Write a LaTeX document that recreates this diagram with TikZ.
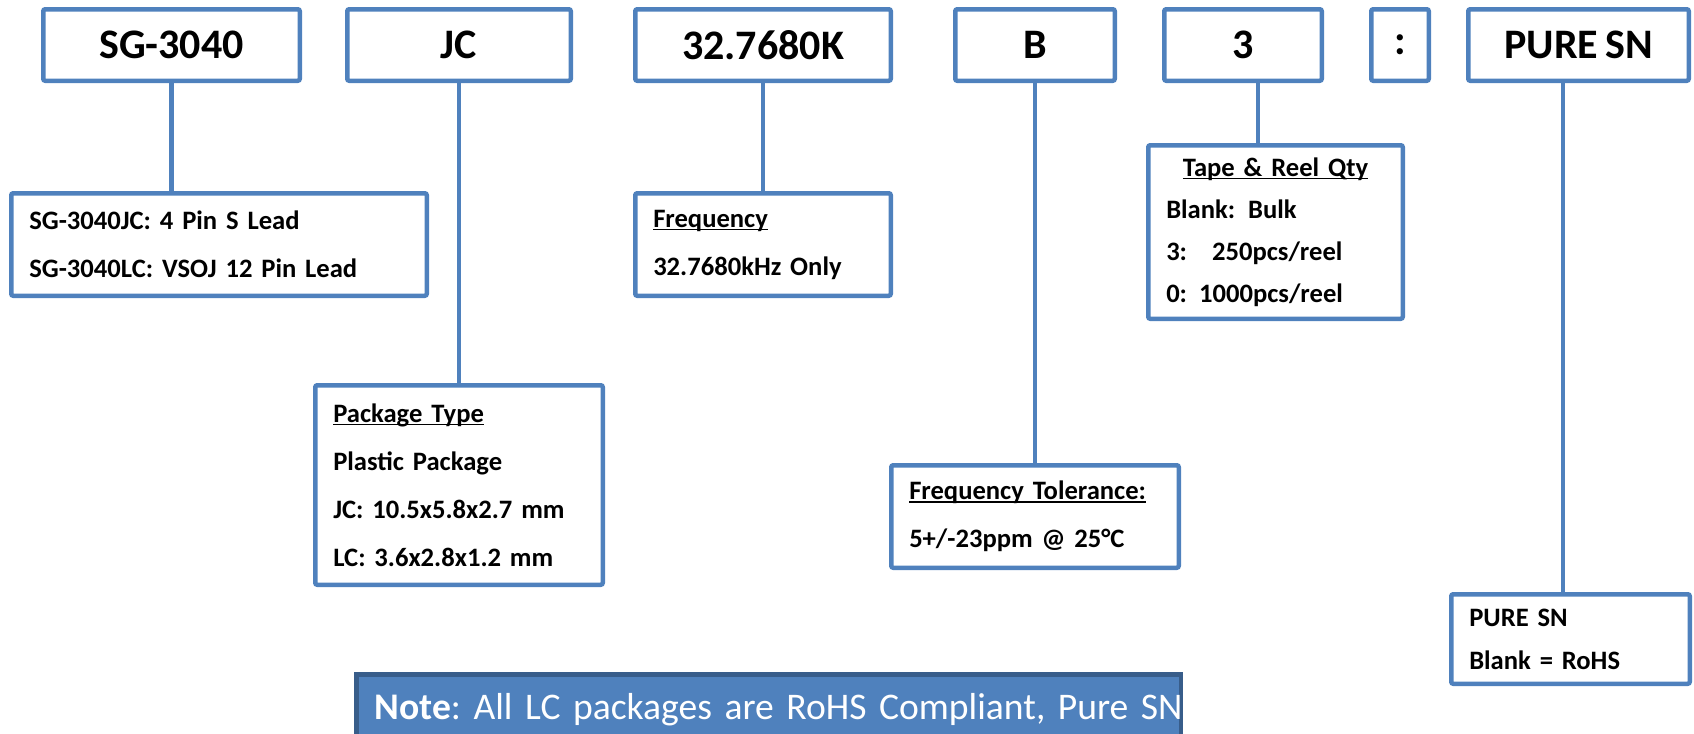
\documentclass[tikz,border=0pt]{standalone}
\usepackage{fontspec}
\setmainfont{Carlito}[WordSpace=0.75]
\frenchspacing
\definecolor{partblue}{RGB}{79,129,189}
\definecolor{notedark}{RGB}{56,93,138}
\newcommand\partul[1]{\setbox0=\hbox{#1}\rlap{\rule[-1.6pt]{\wd0}{0.8pt}}\box0}

\begin{document}
\begin{tikzpicture}[x=0.5pt, y=-0.5pt,
    codebox/.style={draw=partblue, line width=2.25pt, rounded corners=1pt, minimum height=35.75pt, inner sep=2pt, font=\fontsize{21}{25}\selectfont\bfseries},
    infobox/.style={draw=partblue, line width=2.25pt, rounded corners=1pt, align=left, inner xsep=9pt, inner ysep=2pt, font=\fontsize{13.3}{24}\selectfont\bfseries},
    link/.style={draw=partblue, line width=2.25pt}]
    \useasboundingbox (0,0) rectangle (1694,734);
    \clip (0,0) rectangle (1694,734);

    \node[codebox, minimum width=128.25pt] (sg) at (171.5,45) {SG-3040};
    \node[codebox, minimum width=111.75pt] (jc) at (459,45) {JC};
    \node[codebox, minimum width=127.75pt] (freq) at (763,45) {32.7680K};
    \node[codebox, minimum width=79.75pt] (tol) at (1035,45) {B};
    \node[codebox, minimum width=78.75pt] (qty) at (1243,45) {3};
    \node[codebox, minimum width=28.75pt] (colon) at (1400,45) {:};
    \node[codebox, minimum width=110.25pt] (pure) at (1578.5,45) {PURE SN};

    \node[infobox, text width=189.75pt, minimum height=51.25pt] (sgnote) at (219,244.5)
        {SG-3040JC: 4 Pin S Lead\\SG-3040LC: VSOJ 12 Pin Lead};
    \node[infobox, text width=109.75pt, minimum height=51.25pt] (freqnote) at (763,244.5)
        {\partul{Frequency}\\32.7680kHz Only};
    \node[infobox, text width=125.75pt, minimum height=99.75pt] (pkgnote) at (459,485)
        {\partul{Package Type}\\Plastic Package\\JC: 10.5x5.8x2.7 mm\\LC: 3.6x2.8x1.2 mm};
    \node[infobox, text width=125.75pt, minimum height=51.25pt] (tolnote) at (1035,516.5)
        {\partul{Frequency Tolerance:}\\5+/-23ppm @ 25°C};
    \node[infobox, text width=109.25pt, minimum height=86.75pt, font=\fontsize{13.3}{21}\selectfont\bfseries] (qtynote) at (1275.5,232)
        {\makebox[109.25pt]{\partul{Tape \& Reel Qty}}\\Blank:\hspace{6.5pt}Bulk\\3:\hspace{12.5pt}250pcs/reel\\0:\hspace{6pt}1000pcs/reel};
    \node[infobox, text width=101.25pt, minimum height=44.75pt, font=\fontsize{13.3}{21.5}\selectfont\bfseries] (purenote) at (1570.5,639)
        {PURE SN\\Blank = RoHS};

    \node[anchor=north west, fill=partblue, draw=notedark, line width=2.25pt, text=white, align=left,
        text width=394.25pt, minimum height=35pt, inner xsep=9pt, font=\fontsize{18.8}{22}\selectfont] (note) at (354.25,672.25)
        {\mbox{\textbf{Note}: All LC packages are RoHS Compliant, Pure SN}};

    \draw[link] (sg.south) -- (sg.south |- sgnote.north);
    \draw[link] (jc.south) -- (jc.south |- pkgnote.north);
    \draw[link] (freq.south) -- (freq.south |- freqnote.north);
    \draw[link] (tol.south) -- (tol.south |- tolnote.north);
    \draw[link] ([xshift=7.5pt]qty.south) -- ([xshift=7.5pt]qty.south |- qtynote.north);
    \draw[link] ([xshift=-7.75pt]pure.south) -- ([xshift=-7.75pt]pure.south |- purenote.north);
\end{tikzpicture}
\end{document}
